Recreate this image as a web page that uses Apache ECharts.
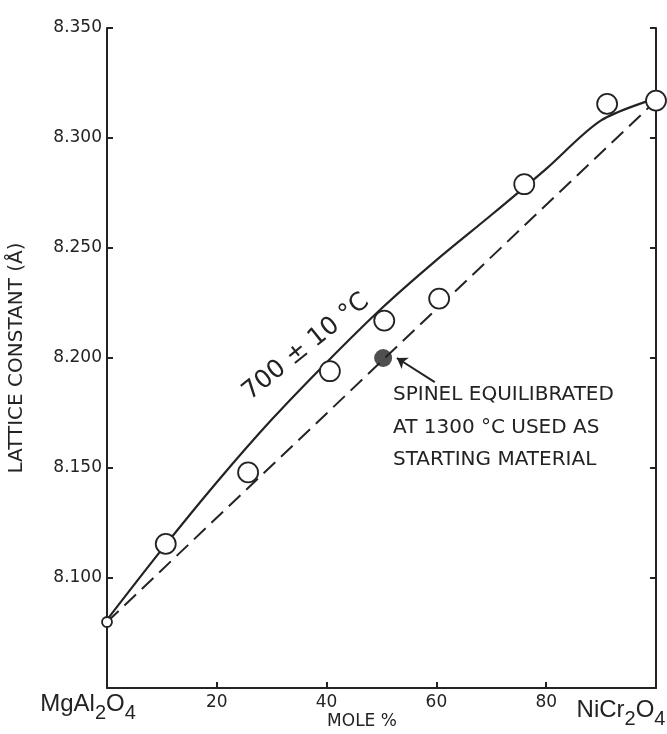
<!DOCTYPE html>
<html><head><meta charset="utf-8">
<script src="https://cdn.jsdelivr.net/npm/echarts@6/dist/echarts.min.js"></script>
<style>html,body{margin:0;padding:0;background:#fff}#c{width:667px;height:734px}</style>
</head><body><div id="c"></div>
<script>
// Solid curve (700 ± 10 °C)
const curveX = [0, 10, 20, 30, 40, 50, 60, 70, 80, 90, 100];
const curveY = [8.081, 8.113, 8.1435, 8.172, 8.198, 8.2225, 8.2445, 8.265, 8.286, 8.308, 8.318];
// Dashed straight line
const dashedX = [0, 100];
const dashedY = [8.080, 8.317];
// Open circles
const openX = [0, 10.7, 25.7, 40.6, 50.5, 60.5, 76, 91.1, 100];
const openY = [8.080, 8.1155, 8.148, 8.194, 8.217, 8.227, 8.279, 8.3155, 8.317];
const openSizes = [10, 20, 20, 20, 20, 20, 20, 20, 20];
// Filled point (spinel equilibrated at 1300 °C)
const filledX = [50.3];
const filledY = [8.200];
// Annotation arrow (data coordinates)
const arrowFrom = [59.7, 8.189];
const arrowTo = [52.8, 8.200];
// Ticks
const xTickValues = [0, 20, 40, 60, 80, 100];
const xTickLabels = ['', '20', '40', '60', '80', ''];
const yTickValues = [8.050, 8.100, 8.150, 8.200, 8.250, 8.300, 8.350];
const yTickLabels = ['', '8.100', '8.150', '8.200', '8.250', '8.300', '8.350'];
const endLabels = ['MgAl2O4', 'NiCr2O4'];
const xTitle = 'MOLE %';
const yTitle = 'LATTICE CONSTANT (Å)';
const curveLabel = '700 ± 10 °C';
const noteLines = ['SPINEL EQUILIBRATED', 'AT 1300 °C USED AS', 'STARTING MATERIAL'];

const INK = '#232323';
const FONT = 'DejaVu Sans';

function lookup(vals, labs, v) {
  for (let i = 0; i < vals.length; i++) if (Math.abs(vals[i] - v) < 1e-6) return labs[i];
  return '';
}
function subscripts(s) { return s.replace(/(\d)/g, '{s|$1}'); }

const chart = echarts.init(document.getElementById('c'), null, {renderer: 'canvas'});
const yAxisCommon = {
  type: 'value', min: 8.05, max: 8.35, interval: 0.05,
  splitLine: {show: false},
  axisLine: {show: true, lineStyle: {color: INK, width: 2}},
  axisTick: {show: true, inside: true, length: 6, lineStyle: {color: INK, width: 2}}
};
chart.setOption({
  animation: false,
  backgroundColor: '#ffffff',
  grid: {left: 107, right: 11, top: 28, bottom: 46},
  xAxis: {
    type: 'value', min: 0, max: 100, interval: 20,
    splitLine: {show: false},
    axisLine: {show: true, onZero: false, lineStyle: {color: INK, width: 2}},
    axisTick: {show: true, inside: true, length: 6, lineStyle: {color: INK, width: 2}},
    axisLabel: {margin: 6, fontSize: 17, fontFamily: FONT, color: INK,
      formatter: v => lookup(xTickValues, xTickLabels, v)}
  },
  yAxis: [
    Object.assign({}, yAxisCommon, {position: 'left',
      axisLabel: {margin: 5, fontSize: 17, fontFamily: FONT, color: INK,
        formatter: v => lookup(yTickValues, yTickLabels, v)}}),
    Object.assign({}, yAxisCommon, {position: 'right', axisLabel: {show: false}})
  ],
  series: [
    {type: 'line', data: curveX.map((x, i) => [x, curveY[i]]), smooth: 0.3,
     showSymbol: false, symbol: 'none', lineStyle: {color: INK, width: 2.2}, z: 2, silent: true},
    {type: 'line', data: dashedX.map((x, i) => [x, dashedY[i]]),
     showSymbol: false, symbol: 'none', lineStyle: {color: INK, width: 2, type: [16, 8]}, z: 2, silent: true},
    {type: 'scatter', symbol: 'circle',
     data: openX.map((x, i) => ({value: [x, openY[i]], symbolSize: openSizes[i]})),
     itemStyle: {color: '#ffffff', borderColor: INK, borderWidth: 1.8, opacity: 1}, z: 3, silent: true},
    {type: 'scatter', symbol: 'circle', symbolSize: 18,
     data: filledX.map((x, i) => [x, filledY[i]]),
     itemStyle: {color: INK}, z: 4, silent: true,
     markLine: {silent: true, symbol: ['none', 'arrow'], symbolSize: 10,
       lineStyle: {color: INK, width: 2, type: 'solid'}, label: {show: false},
       data: [[{coord: arrowFrom}, {coord: arrowTo}]]}}
  ],
  graphic: [
    {type: 'text', x: 17, y: 358, rotation: Math.PI / 2,
     style: {text: yTitle, fontSize: 20, fontFamily: FONT, fill: INK, align: 'center', verticalAlign: 'middle'}},
    {type: 'text', x: 362, y: 722,
     style: {text: xTitle, fontSize: 17, fontFamily: FONT, fill: INK, align: 'center', verticalAlign: 'middle'}},
    {type: 'text', x: 88, y: 704,
     style: {text: subscripts(endLabels[0]), fontSize: 24, fontFamily: 'Liberation Sans', fill: INK,
       align: 'center', verticalAlign: 'middle',
       rich: {s: {fontSize: 20, fontFamily: 'Liberation Sans', fill: INK, padding: [18, 0, 0, 0]}}}},
    {type: 'text', x: 621, y: 710,
     style: {text: subscripts(endLabels[1]), fontSize: 24, fontFamily: 'Liberation Sans', fill: INK,
       align: 'center', verticalAlign: 'middle',
       rich: {s: {fontSize: 20, fontFamily: 'Liberation Sans', fill: INK, padding: [18, 0, 0, 0]}}}},
    {type: 'text', x: 306, y: 347, rotation: 0.68,
     style: {text: curveLabel, fontSize: 25, fontFamily: FONT, fill: INK, align: 'center', verticalAlign: 'middle'}},
    {type: 'text', x: 393, y: 379,
     style: {text: noteLines.join('\n'), fontSize: 20, lineHeight: 32.5, fontFamily: FONT, fill: INK,
       align: 'left', verticalAlign: 'top'}}
  ]
});
</script>
</body></html>
